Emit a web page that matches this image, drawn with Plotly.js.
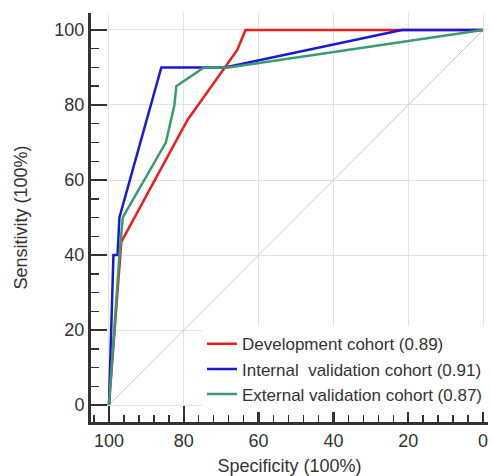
<!DOCTYPE html>
<html>
<head>
<meta charset="utf-8">
<script src="https://cdn.plot.ly/plotly-3.0.1.min.js"></script>
<style>html,body{margin:0;padding:0;background:#fff;}#chart{width:492px;height:476px;}</style>
</head>
<body>
<div id="chart"></div>
<script>
// Specificity (x) and sensitivity (y) values
const devSpec = [100, 96.7, 79, 65.7, 63.5, 0];
const devSens = [0, 43.5, 76, 94.7, 100, 100];
const intSpec = [100, 98.8, 97.7, 97.2, 86, 69, 21.7, 0];
const intSens = [0, 40, 40, 50, 90, 90, 100, 100];
const extSpec = [100, 97.2, 96.3, 84.8, 82.5, 82, 74.6, 68, 0];
const extSens = [0, 40, 50, 70, 80, 85, 90, 90, 100];
const refSpec = [100, 0];
const refSens = [0, 100];
const seriesNames = ["Development cohort (0.89)", "Internal\u00a0 validation cohort (0.91)", "External validation cohort (0.87)"];
const tickVals = [0, 20, 40, 60, 80, 100];

const traces = [
  {x: refSpec, y: refSens, mode: 'lines', line: {color: '#dcc4c6', width: 1}, showlegend: false, hoverinfo: 'skip'},
  {x: devSpec, y: devSens, mode: 'lines', name: seriesNames[0], line: {color: '#ee1c1c', width: 2.5}},
  {x: intSpec, y: intSens, mode: 'lines', name: seriesNames[1], line: {color: '#1818d6', width: 2.5}},
  {x: extSpec, y: extSens, mode: 'lines', name: seriesNames[2], line: {color: '#3a9b6c', width: 2.5}}
];

const FONT = 'Liberation Sans, Arial, sans-serif';
const axisCommon = {
  showline: true, linecolor: '#333', linewidth: 3,
  ticks: 'inside', ticklen: 16, tickwidth: 2.5, tickcolor: '#333',
  tickvals: tickVals, ticktext: tickVals.map(String),
  showgrid: true, gridcolor: '#e2e2e2', gridwidth: 1,
  zeroline: false, automargin: false,
  tickfont: {family: FONT, size: 18, color: '#333'},
  mirror: false
};

const layout = {
  width: 492, height: 476,
  margin: {l: 91, r: 4, t: 13, b: 54},
  paper_bgcolor: '#fff', plot_bgcolor: '#fff',
  showlegend: true,
  xaxis: Object.assign({}, axisCommon, {
    range: [104.8, -1.33],
    minor: {dtick: 4, tick0: 0, ticks: 'inside', ticklen: 7, tickwidth: 1.5, tickcolor: '#333', showgrid: false},
    title: {text: 'Specificity (100%)', font: {family: FONT, size: 18, color: '#333'}, standoff: 12}
  }),
  yaxis: Object.assign({}, axisCommon, {
    range: [-4.53, 104.53],
    minor: {dtick: 5, tick0: 0, ticks: 'inside', ticklen: 8, tickwidth: 1.5, tickcolor: '#333', showgrid: false},
    title: {text: 'Sensitivity (100%)', font: {family: FONT, size: 18, color: '#333'}, standoff: 23}
  }),
  legend: {
    x: 1, xanchor: 'right', y: 0.234, yanchor: 'top',
    bgcolor: '#ffffff', borderwidth: 0,
    font: {family: FONT, size: 17, color: '#333'},
    tracegroupgap: 0, itemwidth: 30
  }
};

Plotly.newPlot('chart', traces, layout, {displayModeBar: false, staticPlot: true});
</script>
</body>
</html>
